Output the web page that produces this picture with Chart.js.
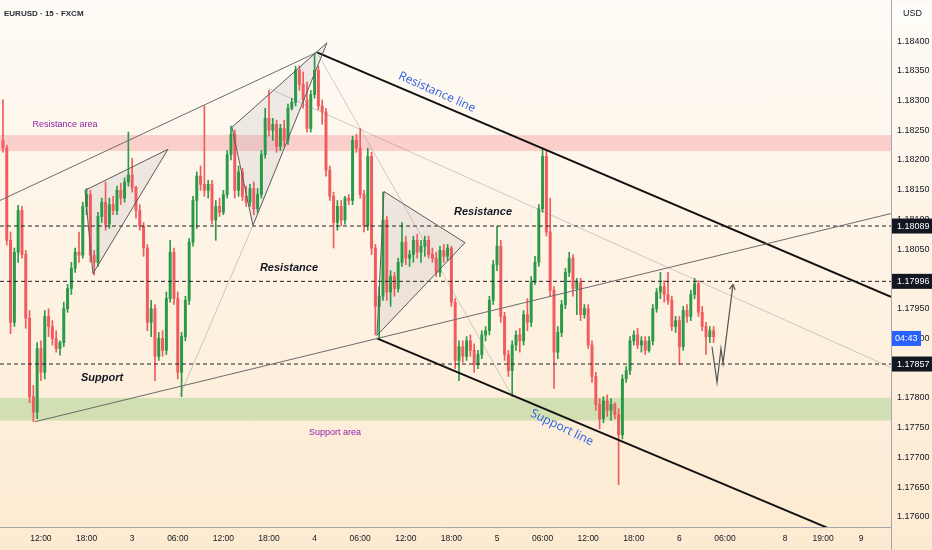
<!DOCTYPE html>
<html>
<head>
<meta charset="utf-8">
<script src="https://cdn.jsdelivr.net/npm/chart.js@4.4.1/dist/chart.umd.min.js"></script>
<style>
  html, body { margin: 0; padding: 0; }
  body { width: 932px; height: 550px; overflow: hidden; background: linear-gradient(#fefbf6, #fdead1); }
  #wrap { position: relative; width: 932px; height: 550px; }
</style>
</head>
<body>
<div id="wrap"><canvas id="chart"></canvas></div>
<script>
// EURUSD 30-min candles, x in hours counted from the 2nd 12:00
const candleStart = -5;
const candleStep = 0.5;

const open = [
  1.18233,1.18220,1.18065,1.17927,1.18045,1.18115,1.18041,1.17934,1.17802,1.17776,
  1.17883,1.17843,1.17937,1.17920,1.17900,1.17883,1.17893,1.17950,1.17984,1.18018,
  1.18045,1.18040,1.18122,1.18142,1.18040,1.18028,1.18105,1.18129,1.18092,1.18125,
  1.18115,1.18149,1.18136,1.18163,1.18175,1.18154,1.18115,1.18089,1.18052,1.17927,
  1.17950,1.17870,1.17900,1.17880,1.17967,1.18045,1.17967,1.17843,1.17903,1.17964,
  1.18062,1.18132,1.18173,1.18159,1.18149,1.18159,1.18099,1.18122,1.18112,1.18142,
  1.18209,1.18243,1.18149,1.18180,1.18139,1.18129,1.18152,1.18118,1.18142,1.18209,
  1.18270,1.18250,1.18260,1.18223,1.18253,1.18233,1.18287,1.18297,1.18351,1.18327,
  1.18301,1.18253,1.18310,1.18351,1.18291,1.18281,1.18183,1.18139,1.18095,1.18122,
  1.18099,1.18136,1.18132,1.18233,1.18220,1.18142,1.18089,1.18206,1.18052,1.17954,
  1.17971,1.18099,1.17978,1.18004,1.17984,1.18028,1.18062,1.18035,1.18041,1.18065,
  1.18045,1.18055,1.18065,1.18041,1.18035,1.18011,1.18048,1.18038,1.18052,1.17961,
  1.17863,1.17886,1.17870,1.17896,1.17880,1.17856,1.17873,1.17906,1.17913,1.17964,
  1.18024,1.18055,1.17937,1.17873,1.17846,1.17889,1.17906,1.17896,1.17940,1.17927,
  1.17994,1.18028,1.18118,1.18206,1.18079,1.17981,1.17877,1.17910,1.17957,1.18011,
  1.18035,1.17984,1.17994,1.17940,1.17950,1.17889,1.17836,1.17789,1.17765,1.17795,
  1.17779,1.17789,1.17772,1.17738,1.17832,1.17846,1.17896,1.17906,1.17889,1.17896,
  1.17880,1.17896,1.17950,1.17978,1.17987,1.17974,1.17964,1.17920,1.17930,1.17886,
  1.17947,1.17937,1.17974,1.17992,1.17944,1.17920,1.17903,1.17913
];
const high = [
  1.18301,1.18225,1.18079,1.18052,1.18124,1.18122,1.18048,1.17947,1.17821,1.17893,
  1.17896,1.17947,1.17950,1.17930,1.17913,1.17896,1.17961,1.17991,1.18028,1.18052,
  1.18079,1.18129,1.18152,1.18149,1.18048,1.18112,1.18136,1.18163,1.18136,1.18139,
  1.18156,1.18161,1.18170,1.18247,1.18203,1.18156,1.18125,1.18095,1.18058,1.17964,
  1.17957,1.17910,1.17913,1.17978,1.18065,1.18052,1.17978,1.17910,1.17971,1.18068,
  1.18139,1.18180,1.18190,1.18291,1.18166,1.18166,1.18132,1.18136,1.18149,1.18216,
  1.18257,1.18250,1.18190,1.18186,1.18156,1.18159,1.18163,1.18152,1.18216,1.18287,
  1.18317,1.18270,1.18267,1.18260,1.18267,1.18294,1.18304,1.18358,1.18358,1.18348,
  1.18331,1.18317,1.18380,1.18358,1.18301,1.18287,1.18190,1.18146,1.18132,1.18132,
  1.18139,1.18142,1.18240,1.18243,1.18253,1.18149,1.18220,1.18213,1.18058,1.17987,
  1.18146,1.18105,1.18014,1.18011,1.18035,1.18095,1.18072,1.18048,1.18072,1.18075,
  1.18065,1.18072,1.18072,1.18052,1.18045,1.18055,1.18058,1.18058,1.18055,1.17967,
  1.17896,1.17896,1.17903,1.17906,1.17891,1.17880,1.17913,1.17920,1.17971,1.18031,
  1.18089,1.18065,1.17944,1.17880,1.17896,1.17913,1.17917,1.17947,1.17967,1.18004,
  1.18038,1.18125,1.18220,1.18216,1.18136,1.17987,1.17920,1.17964,1.18018,1.18045,
  1.18041,1.18001,1.18001,1.17957,1.17957,1.17896,1.17843,1.17799,1.17802,1.17805,
  1.17799,1.17792,1.17782,1.17839,1.17853,1.17903,1.17913,1.17917,1.17903,1.17903,
  1.17903,1.17957,1.17984,1.18011,1.17997,1.18011,1.17971,1.17937,1.17937,1.17954,
  1.17957,1.17981,1.18001,1.17997,1.17954,1.17927,1.17920,1.17920
];
const low = [
  1.18213,1.18057,1.17908,1.17920,1.18028,1.18035,1.17917,1.17792,1.17760,1.17765,
  1.17829,1.17832,1.17903,1.17889,1.17877,1.17872,1.17886,1.17944,1.17974,1.18011,
  1.18028,1.18035,1.18108,1.18028,1.18007,1.18021,1.18095,1.18082,1.18085,1.18108,
  1.18108,1.18125,1.18129,1.18156,1.18146,1.18102,1.18082,1.18038,1.17913,1.17903,
  1.17829,1.17863,1.17870,1.17873,1.17961,1.17957,1.17832,1.17802,1.17896,1.17957,
  1.18055,1.18085,1.18149,1.18139,1.18136,1.18092,1.18065,1.18105,1.18108,1.18136,
  1.18200,1.18136,1.18139,1.18132,1.18122,1.18122,1.18108,1.18112,1.18136,1.18203,
  1.18240,1.18233,1.18213,1.18216,1.18223,1.18226,1.18284,1.18291,1.18317,1.18287,
  1.18247,1.18247,1.18304,1.18284,1.18260,1.18173,1.18132,1.18052,1.18082,1.18089,
  1.18092,1.18125,1.18125,1.18213,1.18136,1.18079,1.18082,1.18041,1.17906,1.17900,
  1.17964,1.17964,1.17954,1.17971,1.17978,1.18021,1.18024,1.18021,1.18028,1.18035,
  1.18028,1.18038,1.18035,1.18028,1.18004,1.18004,1.18028,1.18031,1.17954,1.17849,
  1.17829,1.17860,1.17863,1.17870,1.17843,1.17849,1.17866,1.17896,1.17906,1.17957,
  1.18014,1.17927,1.17863,1.17836,1.17802,1.17880,1.17877,1.17889,1.17913,1.17920,
  1.17991,1.18021,1.18112,1.18072,1.17971,1.17816,1.17866,1.17903,1.17950,1.18004,
  1.17971,1.17940,1.17930,1.17934,1.17883,1.17826,1.17779,1.17748,1.17758,1.17769,
  1.17762,1.17765,1.17654,1.17731,1.17826,1.17839,1.17889,1.17883,1.17877,1.17873,
  1.17877,1.17889,1.17944,1.17967,1.17961,1.17957,1.17913,1.17910,1.17856,1.17880,
  1.17927,1.17930,1.17967,1.17937,1.17913,1.17873,1.17893,1.17893
];
const close = [
  1.18220,1.18065,1.17927,1.18045,1.18115,1.18041,1.17934,1.17802,1.17776,1.17883,
  1.17843,1.17937,1.17920,1.17900,1.17883,1.17893,1.17950,1.17984,1.18018,1.18045,
  1.18040,1.18122,1.18142,1.18040,1.18028,1.18105,1.18129,1.18092,1.18125,1.18115,
  1.18149,1.18136,1.18163,1.18175,1.18154,1.18115,1.18089,1.18052,1.17927,1.17950,
  1.17870,1.17900,1.17880,1.17967,1.18045,1.17967,1.17843,1.17903,1.17964,1.18062,
  1.18132,1.18173,1.18159,1.18149,1.18159,1.18099,1.18122,1.18112,1.18142,1.18209,
  1.18243,1.18149,1.18180,1.18139,1.18129,1.18152,1.18118,1.18142,1.18209,1.18270,
  1.18250,1.18260,1.18223,1.18253,1.18233,1.18287,1.18297,1.18351,1.18327,1.18301,
  1.18253,1.18310,1.18351,1.18291,1.18281,1.18183,1.18139,1.18095,1.18122,1.18099,
  1.18136,1.18132,1.18233,1.18220,1.18142,1.18089,1.18206,1.18052,1.17954,1.17971,
  1.18099,1.17978,1.18004,1.17984,1.18028,1.18062,1.18035,1.18041,1.18065,1.18045,
  1.18055,1.18065,1.18041,1.18035,1.18011,1.18048,1.18038,1.18052,1.17961,1.17863,
  1.17886,1.17870,1.17896,1.17880,1.17856,1.17873,1.17906,1.17913,1.17964,1.18024,
  1.18055,1.17937,1.17873,1.17846,1.17889,1.17906,1.17896,1.17940,1.17927,1.17994,
  1.18028,1.18118,1.18206,1.18079,1.17981,1.17877,1.17910,1.17957,1.18011,1.18035,
  1.17984,1.17994,1.17940,1.17950,1.17889,1.17836,1.17789,1.17765,1.17795,1.17779,
  1.17789,1.17772,1.17738,1.17832,1.17846,1.17896,1.17906,1.17889,1.17896,1.17880,
  1.17896,1.17950,1.17978,1.17987,1.17974,1.17964,1.17920,1.17930,1.17886,1.17947,
  1.17937,1.17974,1.17992,1.17944,1.17920,1.17903,1.17913,1.17903
];

// axis ticks
const xTickPos = [0, 6, 12, 18, 24, 30, 36, 42, 48, 54, 60, 66, 72, 78, 84, 90, 97.9, 102.9, 107.9];
const xTickLabels = ["12:00","18:00","3","06:00","12:00","18:00","4","06:00","12:00","18:00","5","06:00","12:00","18:00","6","06:00","8","19:00","9"];
const yTicks = [1.176,1.1765,1.177,1.1775,1.178,1.1785,1.179,1.1795,1.18,1.1805,1.181,1.1815,1.182,1.1825,1.183,1.1835,1.184];
const xMin = -5.39, xMax = 111.84;
const yMin = 1.17583, yMax = 1.18469;

// drawings [hours, price]
const levels = [1.18089, 1.17996, 1.17857];
const lastPrice = 1.17900;
const resistanceArea = [1.18215, 1.18242];
const supportArea = [1.17762, 1.17800];
const upperTrend = [[-5.39, 1.18132], [36.32, 1.18381]];
const lowerTrend = [[-0.79, 1.17760], [111.84, 1.18110]];
const resistanceLine = [[36.32, 1.18381], [111.84, 1.17970]];
const supportLine = [[44.21, 1.17900], [103.42, 1.17582]];
const faintA = [[18.29, 1.17804], [27.89, 1.18090]];
const faintB = [[36.32, 1.18381], [61.97, 1.17804]];
const faintC = [[29.87, 1.18321], [111.84, 1.17851]];
const projection = [[88.29, 1.17886], [88.95, 1.17826], [89.47, 1.17883], [89.74, 1.17858], [91.05, 1.17991]];
const wedgeA = [[5.79, 1.18149], [16.71, 1.18218], [6.84, 1.18009]];
const wedgeB = [[25.13, 1.18255], [37.63, 1.18397], [27.89, 1.18090]];
const triangleC = [[45.13, 1.18147], [55.79, 1.18061], [44.21, 1.17905]];

const notes = [
  { text: "Resistance area", t: 3.16, p: 1.18259, font: "9px 'Liberation Sans'", color: "#8e24aa", angle: 0 },
  { text: "Support area", t: 38.68, p: 1.17742, font: "9px 'Liberation Sans'", color: "#8e24aa", angle: 0 },
  { text: "Support", t: 8.03, p: 1.17834, font: "italic bold 11px 'Liberation Sans'", color: "#131722", angle: 0 },
  { text: "Resistance", t: 32.63, p: 1.18018, font: "italic bold 11px 'Liberation Sans'", color: "#131722", angle: 0 },
  { text: "Resistance", t: 58.16, p: 1.18112, font: "italic bold 11px 'Liberation Sans'", color: "#131722", angle: 0 },
  { text: "Resistance line", t: 52.1, p: 1.18314, font: "500 12px 'Open Sans'", color: "#2a5de0", angle: 24 },
  { text: "Support line", t: 68.55, p: 1.17750, font: "500 12px 'Open Sans'", color: "#2a5de0", angle: 26 }
];

const upColor = "#2b9a48";
const downColor = "#f05b5d";

const candleX = open.map((o, i) => candleStart + candleStep * i);
const candleColors = close.map((c, i) => (c >= open[i] ? upColor : downColor));
const toXY = pts => pts.map(([t, p]) => ({ x: t, y: p }));

function lineSet(pts, color, width, dash) {
  return {
    type: "line", data: toXY(pts), borderColor: color, borderWidth: width,
    borderDash: dash || [], pointRadius: 0, fill: false, tension: 0, order: 1
  };
}

const drawings = {
  id: "drawings",
  beforeDatasetsDraw(chart) {
    const { ctx, chartArea: a, scales: { x, y } } = chart;
    ctx.save();
    ctx.beginPath();
    ctx.rect(a.left, a.top, a.right - a.left, a.bottom - a.top);
    ctx.clip();
    [[resistanceArea, "rgba(242,70,80,0.22)"], [supportArea, "rgba(110,190,90,0.30)"]].forEach(([r, col]) => {
      const top = y.getPixelForValue(r[1]), bot = y.getPixelForValue(r[0]);
      ctx.fillStyle = col;
      ctx.fillRect(a.left, top, a.right - a.left, bot - top);
    });
    [wedgeA, wedgeB, triangleC].forEach(tri => {
      ctx.beginPath();
      tri.forEach(([t, p], k) => {
        const px = x.getPixelForValue(t), py = y.getPixelForValue(p);
        if (k) ctx.lineTo(px, py); else ctx.moveTo(px, py);
      });
      ctx.closePath();
      ctx.fillStyle = "rgba(140,140,165,0.14)";
      ctx.fill();
    });
    ctx.restore();
  },
  afterDraw(chart) {
    const { ctx, chartArea: a, scales: { x, y } } = chart;
    ctx.save();
    // axis borders
    ctx.strokeStyle = "#a3a6ae";
    ctx.lineWidth = 1;
    ctx.beginPath();
    ctx.moveTo(a.right + 0.5, 0); ctx.lineTo(a.right + 0.5, 550);
    ctx.moveTo(0, a.bottom + 0.5); ctx.lineTo(a.right, a.bottom + 0.5);
    ctx.stroke();

    // arrow head on projection
    const n = projection.length;
    const x1 = x.getPixelForValue(projection[n - 2][0]), y1 = y.getPixelForValue(projection[n - 2][1]);
    const x2 = x.getPixelForValue(projection[n - 1][0]), y2 = y.getPixelForValue(projection[n - 1][1]);
    const ang = Math.atan2(y2 - y1, x2 - x1);
    ctx.strokeStyle = "#555";
    ctx.lineWidth = 1.2;
    ctx.beginPath();
    [-0.5, 0.5].forEach(d => {
      ctx.moveTo(x2, y2);
      ctx.lineTo(x2 - 6 * Math.cos(ang + d), y2 - 6 * Math.sin(ang + d));
    });
    ctx.stroke();

    // notes
    notes.forEach(nt => {
      ctx.save();
      ctx.translate(x.getPixelForValue(nt.t), y.getPixelForValue(nt.p));
      ctx.rotate(nt.angle * Math.PI / 180);
      ctx.font = nt.font;
      ctx.fillStyle = nt.color;
      ctx.textAlign = "center";
      ctx.textBaseline = "middle";
      ctx.fillText(nt.text, 0, 0);
      ctx.restore();
    });

    // price boxes on the axis
    ctx.textAlign = "left";
    ctx.textBaseline = "middle";
    ctx.font = "9px 'Liberation Sans'";
    levels.forEach(lv => {
      const py = y.getPixelForValue(lv);
      ctx.fillStyle = "#131722";
      ctx.fillRect(a.right + 1, py - 7.5, 40, 15);
      ctx.fillStyle = "#fff";
      ctx.fillText(lv.toFixed(5), a.right + 6, py + 0.5);
    });
    const lp = y.getPixelForValue(lastPrice);
    ctx.fillStyle = "#2962ff";
    ctx.fillRect(a.right + 1, lp - 7.5, 29, 15);
    ctx.fillStyle = "#fff";
    ctx.fillText("04:43", a.right + 4, lp + 0.5);

    // header texts
    ctx.fillStyle = "rgba(255,255,255,0.55)";
    ctx.fillRect(a.right + 3, 3, 37, 22);
    ctx.fillStyle = "#131722";
    ctx.font = "9px 'Liberation Sans'";
    ctx.fillText("USD", a.right + 12, 14);
    ctx.font = "bold 8px 'Liberation Sans'";
    ctx.fillStyle = "#2a2e39";
    ctx.fillText("EURUSD \u00b7 15 \u00b7 FXCM", 4, 14);
    ctx.restore();
  }
};

new Chart(document.getElementById("chart"), {
  type: "bar",
  data: {
    datasets: [
      lineSet(upperTrend, "#6b6b6b", 1),
      lineSet(lowerTrend, "#6b6b6b", 1),
      lineSet(faintA, "rgba(120,120,120,0.45)", 0.8),
      lineSet(faintB, "rgba(120,120,120,0.45)", 0.8),
      lineSet(faintC, "rgba(120,120,120,0.45)", 0.8),
      lineSet(wedgeA.concat([wedgeA[0]]), "#5a5a5a", 1),
      lineSet(wedgeB.concat([wedgeB[0]]), "#5a5a5a", 1),
      lineSet(triangleC.concat([triangleC[0]]), "#5a5a5a", 1),
      lineSet(resistanceLine, "#111", 2),
      lineSet(supportLine, "#111", 2),
      lineSet(projection, "#555", 1.2),
      ...levels.map(lv => lineSet([[xMin, lv], [xMax, lv]], "#222", 1, [4, 3])),
      {
        type: "bar",
        data: low.map((l, i) => ({ x: candleX[i], y: [l, high[i]] })),
        backgroundColor: candleColors,
        barThickness: 1,
        grouped: false,
        order: 10
      },
      {
        type: "bar",
        data: open.map((o, i) => ({ x: candleX[i], y: [o, close[i]] })),
        backgroundColor: candleColors,
        barThickness: 2.3,
        minBarLength: 1,
        grouped: false,
        order: 9
      }
    ]
  },
  options: {
    responsive: true,
    maintainAspectRatio: false,
    animation: false,
    layout: { padding: 0 },
    plugins: { legend: { display: false }, tooltip: { enabled: false } },
    scales: {
      x: {
        type: "linear",
        offset: false,
        min: xMin,
        max: xMax,
        grid: { display: false, drawTicks: false, offset: false },
        border: { display: false },
        afterBuildTicks: s => { s.ticks = xTickPos.map(v => ({ value: v })); },
        afterFit: s => { s.height = 23; s.paddingLeft = 0; s.paddingRight = 0; },
        ticks: {
          autoSkip: false,
          maxRotation: 0,
          padding: 7,
          color: "#131722",
          font: { family: "'Liberation Sans'", size: 8.5 },
          callback: v => xTickLabels[xTickPos.indexOf(v)]
        }
      },
      y: {
        type: "linear",
        position: "right",
        min: yMin,
        max: yMax,
        grid: { display: false, drawTicks: false },
        border: { display: false },
        afterBuildTicks: s => { s.ticks = yTicks.map(v => ({ value: v })); },
        afterFit: s => { s.width = 41; s.paddingTop = 0; s.paddingBottom = 0; },
        ticks: {
          padding: 6,
          color: "#131722",
          font: { family: "'Liberation Sans'", size: 9 },
          callback: v => v.toFixed(5)
        }
      }
    }
  },
  plugins: [drawings]
});
</script>
</body>
</html>
